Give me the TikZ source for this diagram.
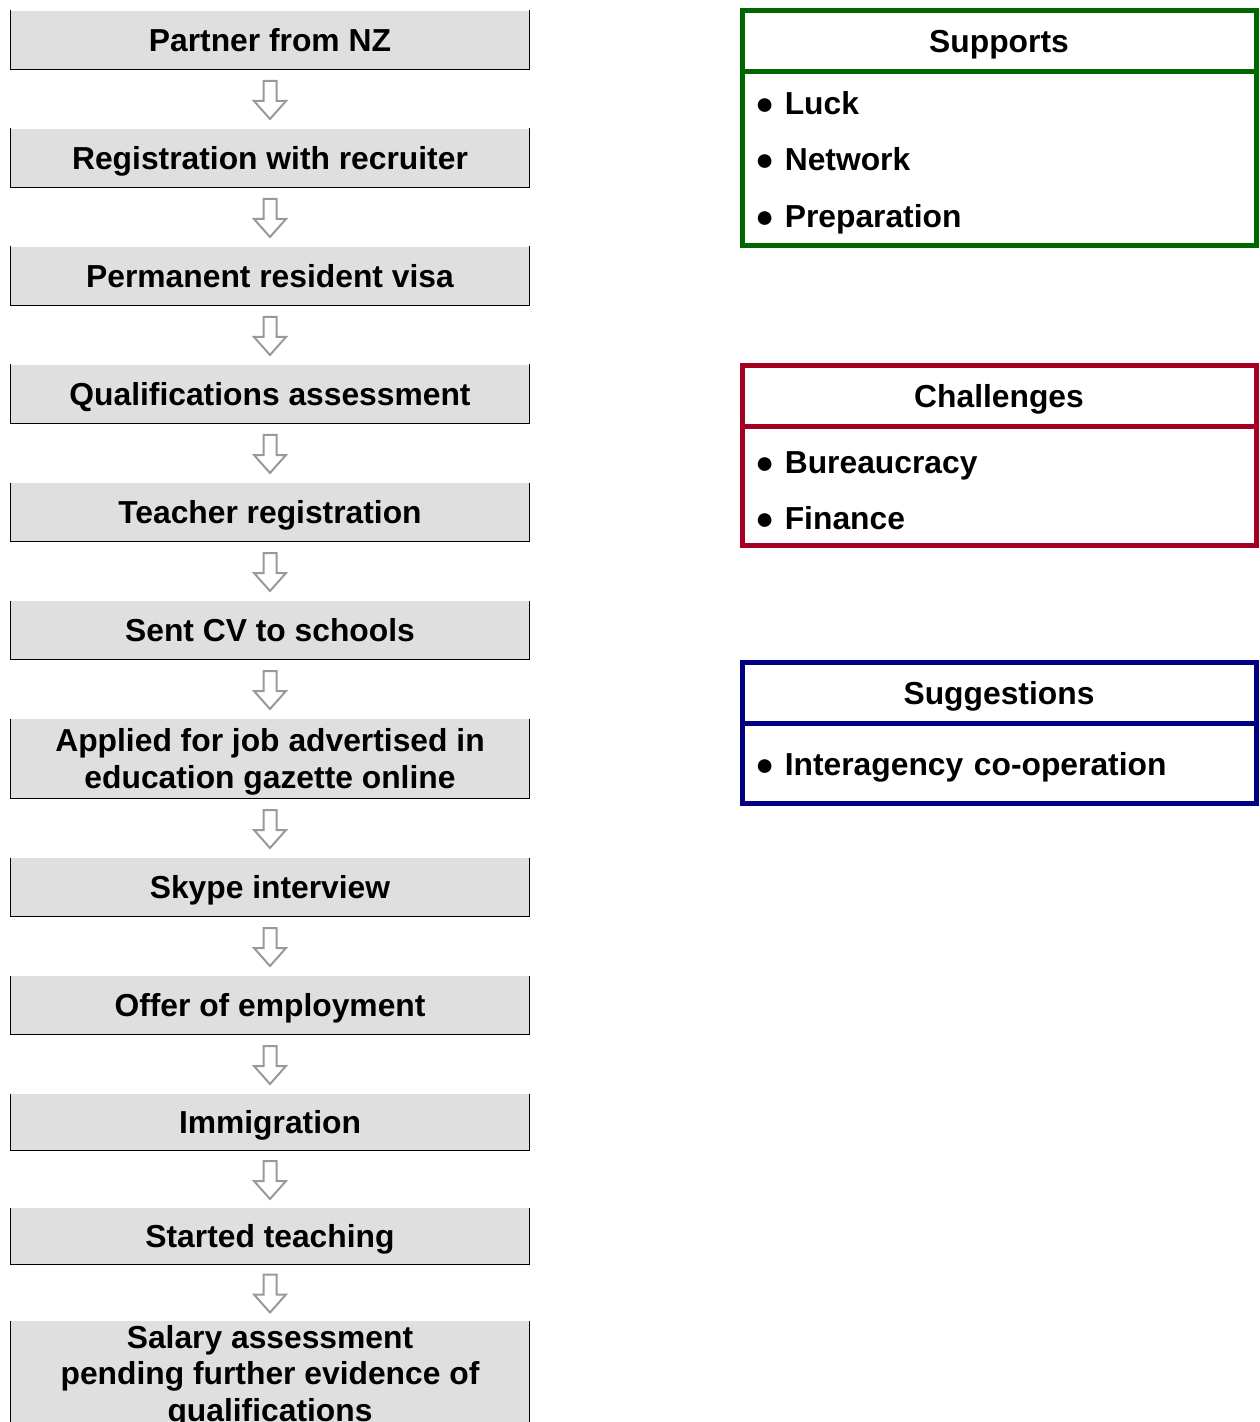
\documentclass[tikz,border=0pt]{standalone}
\usepackage{fontspec}
\setmainfont{Liberation Sans}
\usetikzlibrary{positioning}

\definecolor{supportgreen}{RGB}{0,102,0}
\definecolor{challengered}{RGB}{165,0,33}
\definecolor{suggestblue}{RGB}{0,0,128}

% hollow arrow half way between two step boxes
\newcommand{\flowarrow}[2]{%
  \path (#1.south) -- coordinate[pos=0.5] (#1-#2) (#2.north);
  \draw[flow arrow] ([shift={(-6.5,-18)}]#1-#2) -- ++(13,0) -- ++(0,20)
    -- ++(9.5,0) -- ++(-16,18) -- ++(-16,-18) -- ++(9.5,0) -- cycle;}

\begin{document}
\begin{tikzpicture}[x=0.5pt, y=-0.5pt, node distance=29.5pt,
    step box/.style={fill=gray!25, minimum width=259pt, minimum height=29pt,
      align=center, inner sep=2pt, outer sep=0.25pt, text depth=0pt,
      font=\bfseries\fontsize{15.9}{18.3}\selectfont},
    step edge/.style={draw=black, line width=0.6pt},
    flow arrow/.style={draw=gray!80, fill=white, line width=1pt, line join=miter},
    list head/.style={draw=#1, line width=2.5pt, fill=white, outer sep=0pt,
      minimum width=257pt, minimum height=30.5pt, text depth=0pt,
      font=\bfseries\fontsize{15.9}{18.3}\selectfont},
    list body/.style={draw=#1, line width=2.5pt, outer sep=0pt,
      text width=244pt, inner xsep=6.5pt, align=left,
      execute at begin node={\rule{0pt}{15.5pt}},
      font=\bfseries\fontsize{15.9}{28.25}\selectfont}]

  \path[use as bounding box, clip] (0,0) rectangle (1259,1422);

  % steps of the process
  \node[step box] (partner) at (270,40) {Partner from NZ};
  \node[step box, below=of partner] (recruiter) {Registration with recruiter};
  \node[step box, below=of recruiter] (visa) {Permanent resident visa};
  \node[step box, below=of visa] (assess) {Qualifications assessment};
  \node[step box, below=of assess] (teacher) {Teacher registration};
  \node[step box, below=of teacher] (cv) {Sent CV to schools};
  \node[step box, below=of cv, minimum height=39.5pt] (applied)
    {Applied for job advertised in\\education gazette online};
  \node[step box, below=of applied] (skype) {Skype interview};
  \node[step box, below=of skype] (offer) {Offer of employment};
  \node[step box, below=of offer, minimum height=28pt] (immig) {Immigration};
  \node[step box, below=28.5pt of immig, minimum height=28pt] (started) {Started teaching};
  \node[step box, below=28pt of started] (salary)
    {Salary assessment\\pending further evidence of\\qualifications};

  \foreach \n in {partner,recruiter,visa,assess,teacher,cv,applied,skype,offer,immig,started,salary}
    \draw[step edge] (\n.north west) -- (\n.south west) -- (\n.south east) -- (\n.north east);

  \flowarrow{partner}{recruiter}
  \flowarrow{recruiter}{visa}
  \flowarrow{visa}{assess}
  \flowarrow{assess}{teacher}
  \flowarrow{teacher}{cv}
  \flowarrow{cv}{applied}
  \flowarrow{applied}{skype}
  \flowarrow{skype}{offer}
  \flowarrow{offer}{immig}
  \flowarrow{immig}{started}
  \flowarrow{started}{salary}

  % lists on the right
  \node[list head=supportgreen] (supports) at (999,41) {Supports};
  \node[list body=supportgreen, below=0pt of supports, minimum height=87pt] (supportlist)
    {● Luck\\● Network\\● Preparation};

  \node[list head=challengered] (challenges) at (999,396) {Challenges};
  \node[list body=challengered, below=0pt of challenges, minimum height=59.5pt] (challengelist)
    {● Bureaucracy\\● Finance};

  \node[list head=suggestblue] (suggestions) at (999,693) {Suggestions};
  \node[list body=suggestblue, below=0pt of suggestions, minimum height=40pt] (suggestlist)
    {● Interagency co-operation};
\end{tikzpicture}
\end{document}
